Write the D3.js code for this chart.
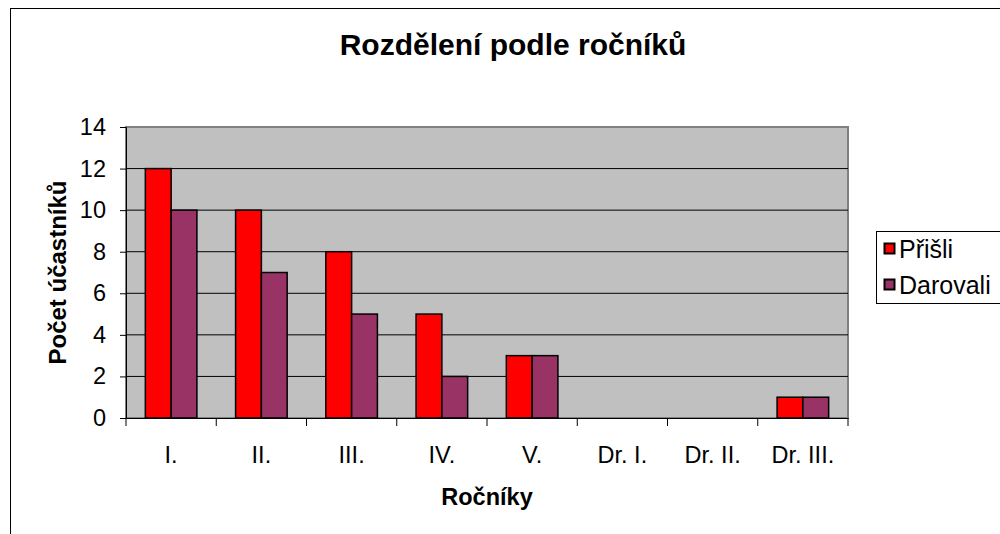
<!DOCTYPE html>
<html>
<head>
<meta charset="utf-8">
<script src="https://cdn.jsdelivr.net/npm/d3@7"></script>
<style>
  body { margin: 0; background: #fff; }
  text { font-family: "Liberation Sans", Arial, sans-serif; fill: #000; }
</style>
</head>
<body>
<svg id="chart" width="1000" height="534"></svg>
<script>
// data
const categories = ["I.", "II.", "III.", "IV.", "V.", "Dr. I.", "Dr. II.", "Dr. III."]
const seriesNames = ["Přišli", "Darovali"]
const prisli = [12, 10, 8, 5, 3, 0, 0, 1]
const darovali = [10, 7, 5, 2, 3, 0, 0, 1]
const yTicks = [0, 2, 4, 6, 8, 10, 12, 14]
const colors = ["#ff0000", "#993366"]

const svg = d3.select('#chart')

// outer frame
svg.append('rect')
  .attr('x', 10.5).attr('y', 8.5)
  .attr('width', 1000).attr('height', 540)
  .attr('fill', '#fff').attr('stroke', '#000').attr('stroke-width', 1)

const plot = {left: 126, top: 127, right: 848, bottom: 418}

const x = d3.scaleBand().domain(categories).range([plot.left, plot.right])
const x1 = d3.scaleBand().domain(seriesNames).range([0, x.bandwidth()]).paddingOuter(0.75)
const y = d3.scaleLinear().domain([0, 14]).range([plot.bottom, plot.top])

// plot area
svg.append('rect')
  .attr('x', plot.left).attr('y', plot.top)
  .attr('width', plot.right - plot.left).attr('height', plot.bottom - plot.top)
  .attr('fill', '#c0c0c0').attr('stroke', '#808080').attr('stroke-width', 2)

// gridlines
svg.append('g')
  .selectAll('line')
  .data(yTicks.filter(d => d > 0 && d < 14))
  .enter()
  .append('line')
  .attr('x1', plot.left).attr('x2', plot.right)
  .attr('y1', d => y(d)).attr('y2', d => y(d))
  .attr('stroke', '#000').attr('stroke-width', 1)

// bars
const rows = categories.map((c, i) => ({cat: c, vals: [prisli[i], darovali[i]]}))
const groups = svg.append('g')
  .selectAll('g')
  .data(rows)
  .enter()
  .append('g')
  .attr('transform', d => `translate(${x(d.cat)},0)`)

groups.selectAll('rect')
  .data(d => d.vals.map((v, j) => ({name: seriesNames[j], v: v, j: j})).filter(d => d.v > 0))
  .enter()
  .append('rect')
  .attr('x', d => x1(d.name))
  .attr('y', d => y(d.v))
  .attr('width', x1.bandwidth())
  .attr('height', d => y(0) - y(d.v))
  .attr('fill', d => colors[d.j])
  .attr('stroke', '#000').attr('stroke-width', 1.5)

// axes
const yAxis = d3.axisLeft(y).tickValues(yTicks).tickSize(6).tickPadding(14)
const gy = svg.append('g')
  .attr('transform', `translate(${plot.left},0)`)
  .call(yAxis)
gy.select('.domain').attr('stroke', '#000')
gy.selectAll('.tick line').attr('stroke', '#000')
gy.selectAll('text').style('font-size', '23.5px').attr('fill', '#000')
  .style('font-family', '"Liberation Sans", Arial, sans-serif')

const xAxis = d3.axisBottom(x).tickSize(0).tickPadding(28)
const gx = svg.append('g')
  .attr('transform', `translate(0,${plot.bottom})`)
  .call(xAxis)
gx.select('.domain').attr('stroke', '#000')
gx.selectAll('text').style('font-size', '23.5px').attr('fill', '#000')
  .style('font-family', '"Liberation Sans", Arial, sans-serif')

// x ticks at band edges
const edges = categories.map(c => x(c)).concat([plot.right])
svg.append('g')
  .selectAll('line')
  .data(edges)
  .enter()
  .append('line')
  .attr('x1', d => d).attr('x2', d => d)
  .attr('y1', plot.bottom).attr('y2', plot.bottom + 8)
  .attr('stroke', '#000')

// title
svg.append('text')
  .attr('x', 513).attr('y', 55)
  .attr('text-anchor', 'middle')
  .style('font-size', '30px').style('font-weight', 'bold')
  .text('Rozdělení podle ročníků')

svg.append('text')
  .attr('x', (plot.left + plot.right) / 2).attr('y', 505)
  .attr('text-anchor', 'middle')
  .style('font-size', '23.5px').style('font-weight', 'bold')
  .text('Ročníky')

svg.append('text')
  .attr('transform', `translate(66,${(plot.top + plot.bottom) / 2}) rotate(-90)`)
  .attr('text-anchor', 'middle')
  .style('font-size', '24px').style('font-weight', 'bold')
  .text('Počet účastníků')

// legend
const legend = svg.append('g').attr('transform', 'translate(876,231)')
legend.append('rect')
  .attr('x', 0.5).attr('y', 0.5).attr('width', 140).attr('height', 72)
  .attr('fill', '#fff').attr('stroke', '#000')
const li = legend.selectAll('g.item')
  .data(seriesNames)
  .enter()
  .append('g')
  .attr('class', 'item')
  .attr('transform', (d, i) => `translate(8,${27 + i * 36})`)
li.append('rect')
  .attr('x', 0.5).attr('y', -14.5).attr('width', 10).attr('height', 10)
  .attr('fill', (d, i) => colors[i]).attr('stroke', '#000').attr('stroke-width', 2)
li.append('text')
  .attr('x', 15).attr('y', 0)
  .style('font-size', '25px')
  .text(d => d)
</script>
</body>
</html>
